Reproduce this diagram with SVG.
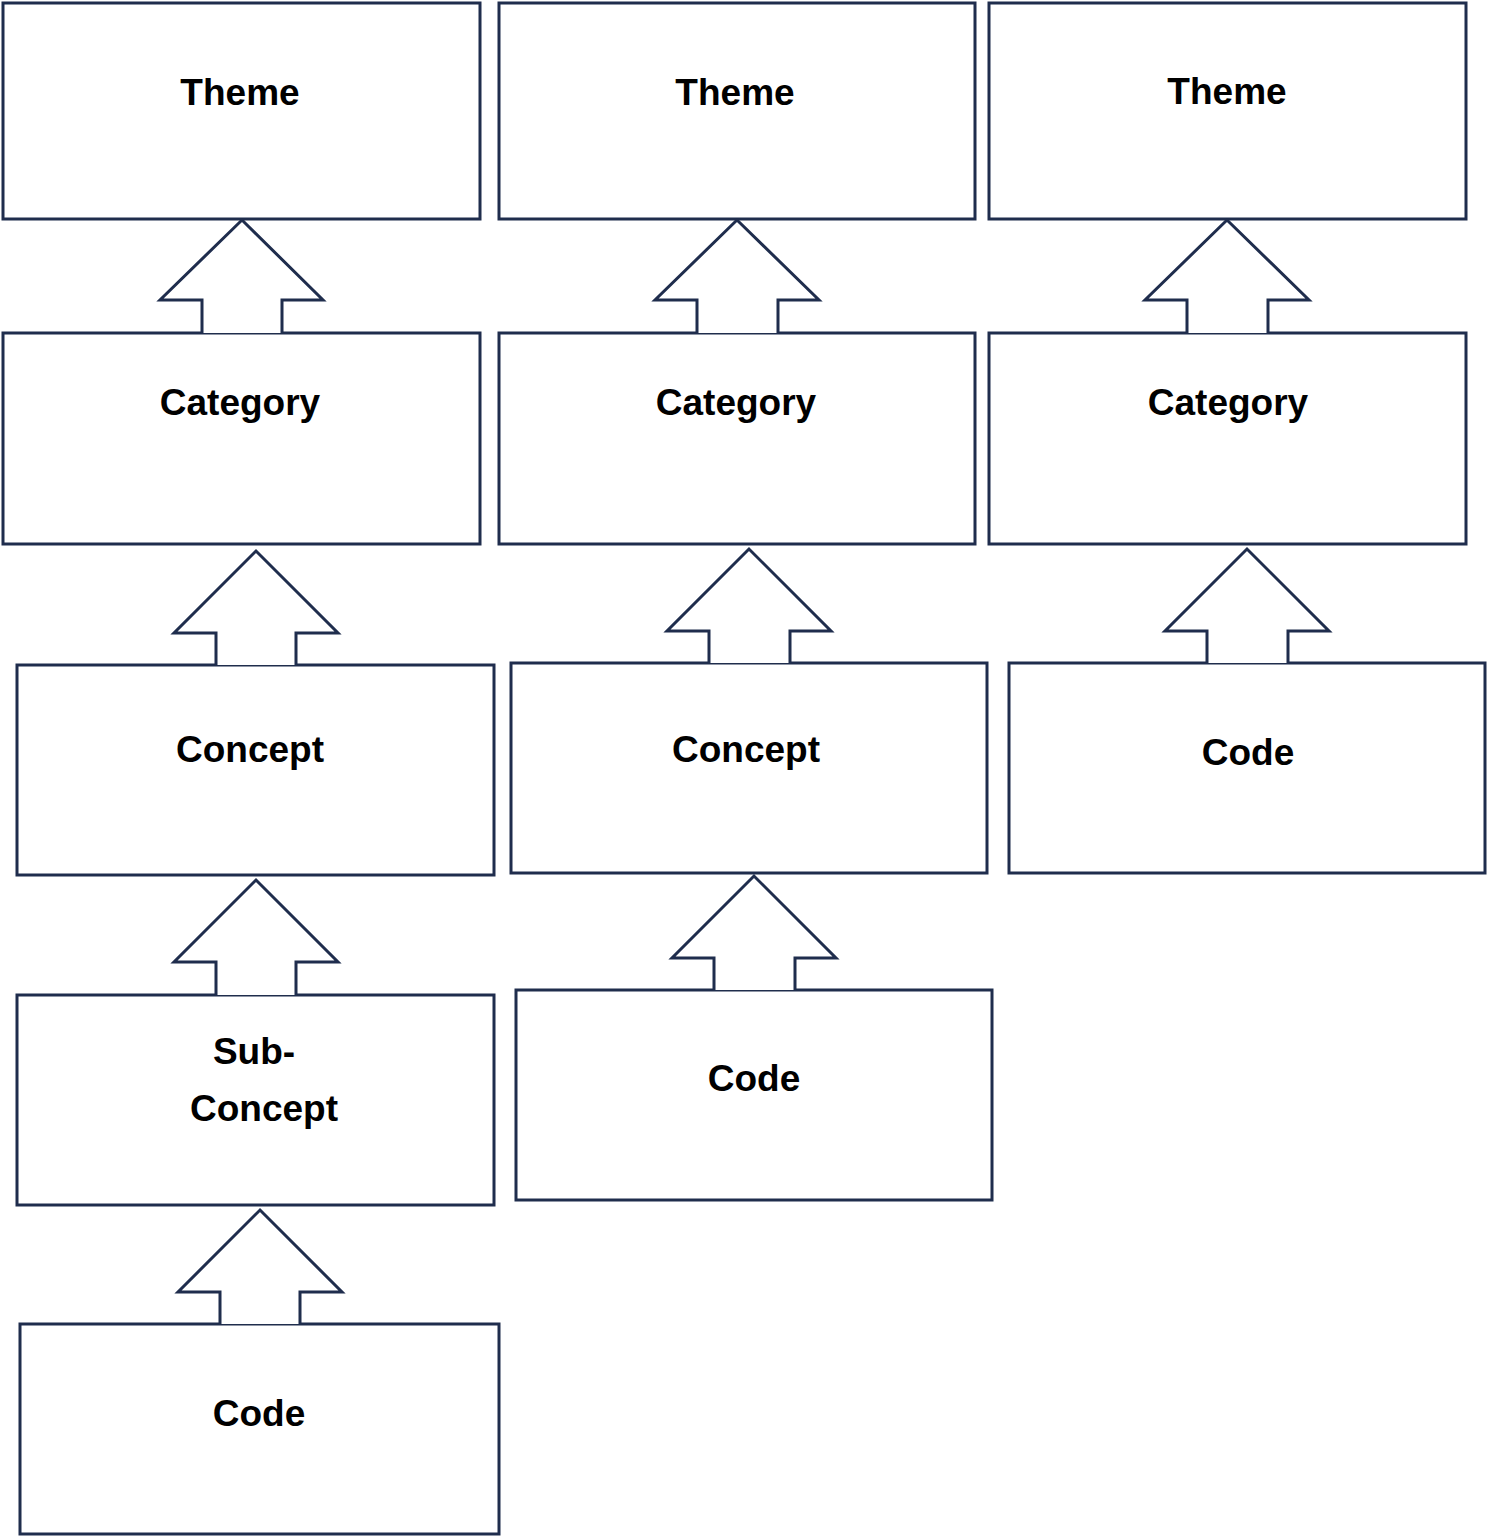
<svg xmlns="http://www.w3.org/2000/svg" width="1489" height="1538" viewBox="0 0 1489 1538">
<style>
.b{fill:#fff;stroke:#1f2d4d;stroke-width:3}
.a{fill:#fff;stroke:#1f2d4d;stroke-width:3;stroke-linejoin:miter}
text{font-family:"Liberation Sans",Arial,sans-serif;font-weight:bold;font-size:37px;text-anchor:middle;fill:#000}
</style>
<rect width="1489" height="1538" fill="#fff"/>
<g id="n1"><rect class="b" x="3" y="3" width="477" height="216"/><text x="240" y="105">Theme</text></g>
<g id="n2"><rect class="b" x="3" y="333" width="477" height="211"/><text x="240" y="415">Category</text></g>
<g id="n3"><rect class="b" x="17" y="665" width="477" height="210"/><text x="250" y="762">Concept</text></g>
<g id="n4"><rect class="b" x="17" y="995" width="477" height="210"/><text x="254" y="1064">Sub-</text><text x="264" y="1121">Concept</text></g>
<g id="n5"><rect class="b" x="20" y="1324" width="479" height="210"/><text x="259" y="1426">Code</text></g>
<g id="n6"><rect class="b" x="499" y="3" width="476" height="216"/><text x="735" y="105">Theme</text></g>
<g id="n7"><rect class="b" x="499" y="333" width="476" height="211"/><text x="736" y="415">Category</text></g>
<g id="n8"><rect class="b" x="511" y="663" width="476" height="210"/><text x="746" y="762">Concept</text></g>
<g id="n9"><rect class="b" x="516" y="990" width="476" height="210"/><text x="754" y="1091">Code</text></g>
<g id="n10"><rect class="b" x="989" y="3" width="477" height="216"/><text x="1227" y="104">Theme</text></g>
<g id="n11"><rect class="b" x="989" y="333" width="477" height="211"/><text x="1228" y="415">Category</text></g>
<g id="n12"><rect class="b" x="1009" y="663" width="476" height="210"/><text x="1248" y="765">Code</text></g>
<g id="connectors">
<polyline class="a" points="202,333 202,300 160,300 242,220 323,300 282,300 282,333"/>
<polyline class="a" points="216,665 216,633 174,633 256,551 338,633 296,633 296,665"/>
<polyline class="a" points="216,995 216,962 174,962 256,880 338,962 296,962 296,995"/>
<polyline class="a" points="220,1324 220,1292 178,1292 260,1210 342,1292 300,1292 300,1324"/>
<polyline class="a" points="697,333 697,300 655,300 737,220 819,300 778,300 778,333"/>
<polyline class="a" points="709,663 709,631 667,631 749,549 831,631 790,631 790,663"/>
<polyline class="a" points="714,990 714,958 672,958 754,876 836,958 795,958 795,990"/>
<polyline class="a" points="1187,333 1187,300 1145,300 1227,220 1309,300 1268,300 1268,333"/>
<polyline class="a" points="1207,663 1207,631 1165,631 1247,549 1329,631 1288,631 1288,663"/>
</g>
</svg>
